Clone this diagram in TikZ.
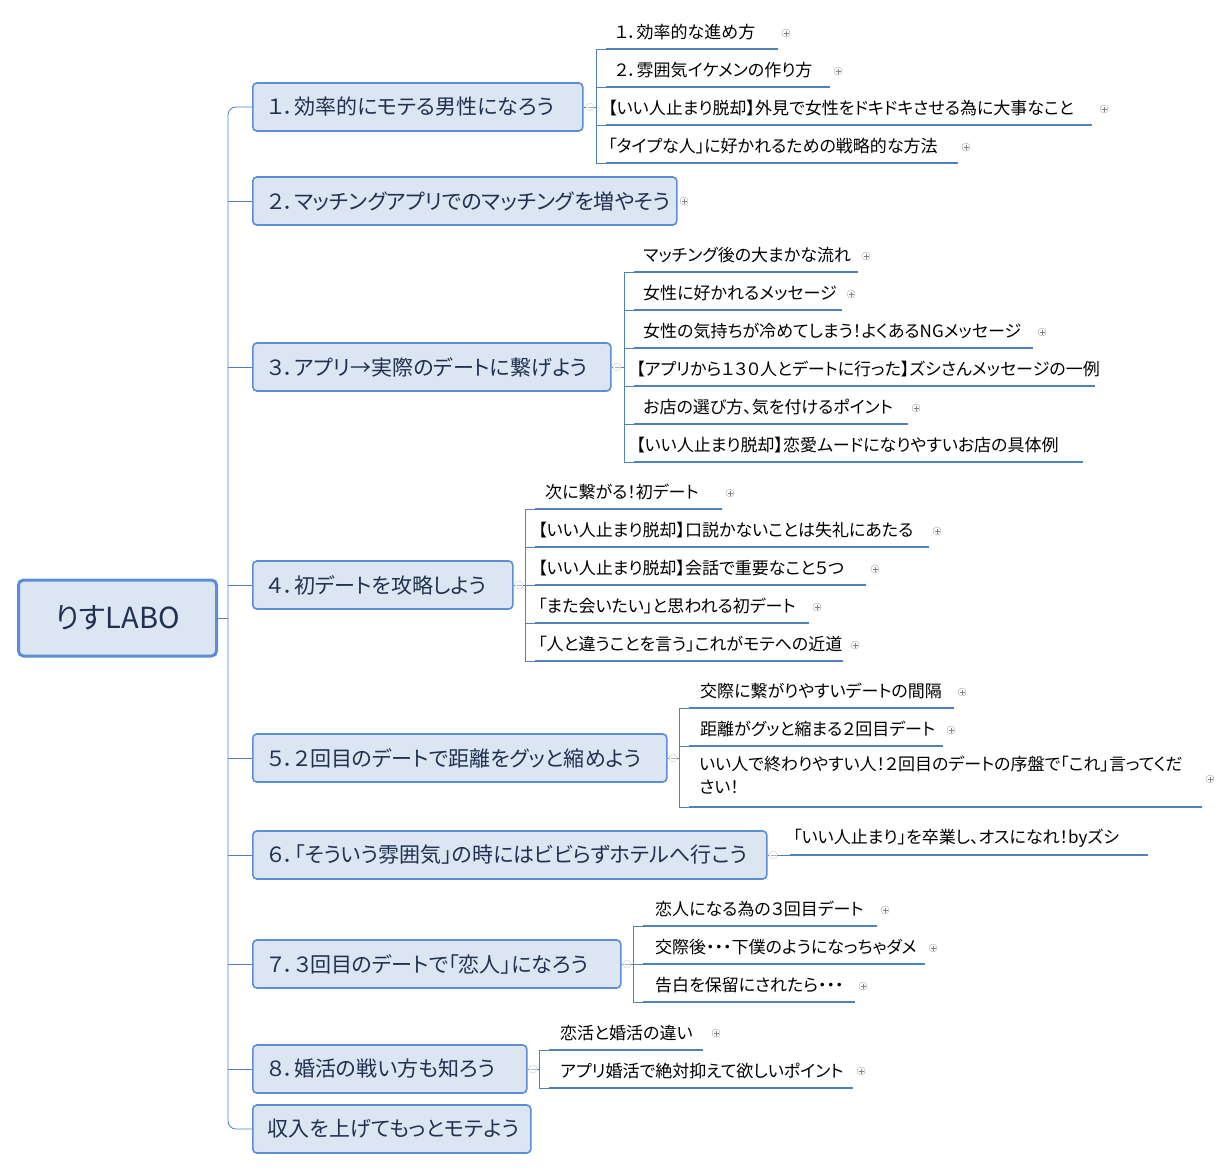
\documentclass[tikz,border=0pt]{standalone}
\usepackage{fontspec}
\setmainfont[RawFeature=+palt]{Noto Sans CJK JP}
\begin{document}
\begin{tikzpicture}[x=1pt,y=-1pt,
  box/.style={draw=boxb,fill=boxf,line width=1.6pt,rounded corners=4pt,anchor=west,inner xsep=15pt,minimum height=48pt,font=\fontsize{21}{24}\selectfont,text=boxt,align=left},
  kid/.style={anchor=west,inner sep=0pt,font=\fontsize{17}{22}\selectfont,text=black},
  uline/.style={draw=ul,line width=2.2pt},
  br/.style={draw=ul,line width=0.8pt},
  plus/.style={circle,draw=gray!70,line width=0.4pt,minimum size=8pt,inner sep=0pt,
    path picture={\draw[gray,line width=0.5pt] ([xshift=-2.5pt]path picture bounding box.center)--([xshift=2.5pt]path picture bounding box.center)
      ([yshift=-2.5pt]path picture bounding box.center)--([yshift=2.5pt]path picture bounding box.center);}},
  minus/.style={circle,draw=gray!45,line width=0.4pt,minimum size=8pt,inner sep=0pt,
    path picture={\draw[gray!60,line width=0.5pt] ([xshift=-2.5pt]path picture bounding box.center)--([xshift=2.5pt]path picture bounding box.center);}}]
\definecolor{boxb}{HTML}{5B8ED6}
\definecolor{boxf}{HTML}{DCE6F2}
\definecolor{boxt}{HTML}{1F3050}
\definecolor{ul}{HTML}{4F81BD}
\useasboundingbox (0,0) rectangle (1231,1170);
\newcommand\kid[6]{%
  \node[kid] (#1) at (#2,#3-17) {#6};
  \draw[uline] (#4,#3) -- (#5,#3);}
\newcommand\pl[3]{\node[plus] (#1) at (#2,#3) {};}
\newcommand\bx[4]{\node[box,text width=#2pt-30pt] (#1) at (252,#3) {#4};}
% root
\node[draw=boxb,fill=boxf,line width=3pt,rounded corners=5pt,minimum width=198pt,minimum height=76pt,font=\fontsize{29}{30}\selectfont,text=boxt] (root) at (117.5,618) {りすLABO};
% level 1
\bx{n1}{330}{107}{１．効率的にモテる男性になろう}
\bx{n2}{424}{201}{２．マッチングアプリでのマッチングを増やそう}
\bx{n3}{358}{367}{３．アプリ→実際のデートに繋げよう}
\bx{n4}{260}{585}{４．初デートを攻略しよう}
\bx{n5}{414}{758}{５．２回目のデートで距離をグッと縮めよう}
\bx{n6}{514}{855}{６．「そういう雰囲気」の時にはビビらずホテルへ行こう}
\bx{n7}{368}{964}{７．３回目のデートで「恋人」になろう}
\bx{n8}{274}{1069}{８．婚活の戦い方も知ろう}
\bx{n9}{278}{1129}{収入を上げてもっとモテよう}
% trunk
\coordinate (t) at (228,618);
\draw[br] (root.east) -- (t);
\draw[br,rounded corners=8pt] (n1.west) -- (228,107) -- (228,1129) -- (n9.west);
\foreach \n in {n2,n3,n4,n5,n6,n7,n8} \draw[br,rounded corners=8pt] (\n.west) -- (228,0 |- \n.west);
% group 1
\node[minus] (m1) at (590,107) {};
\draw[br] (n1.east) -- (m1.west);
\draw[br] (m1.east) -- (596,107);
\draw[br] (596,49) -- (596,163);
\foreach \y in {49,87,125,163} \draw[br] (596,\y) -- (606,\y);
\kid{c11}{615}{49}{606}{778}{１．効率的な進め方}\pl{p11}{786}{33}
\kid{c12}{615}{87}{606}{830}{２．雰囲気イケメンの作り方}\pl{p12}{838}{71}
\kid{c13}{608}{125}{606}{1092}{【いい人止まり脱却】外見で女性をドキドキさせる為に大事なこと}\pl{p13}{1104}{109}
\kid{c14}{608}{163}{606}{958}{「タイプな人」に好かれるための戦略的な方法}\pl{p14}{966}{147}
% group 2
\node[plus] (p2) at (684,201) {};
% group 3
\node[minus] (m3) at (617,367) {};
\draw[br] (n3.east) -- (m3.west);
\draw[br] (m3.east) -- (624,367);
\draw[br] (624,272) -- (624,462);
\foreach \y in {272,310,348,386,424,462} \draw[br] (624,\y) -- (634,\y);
\kid{c31}{643}{272}{634}{858}{マッチング後の大まかな流れ}\pl{p31}{866}{256}
\kid{c32}{643}{310}{634}{842}{女性に好かれるメッセージ}\pl{p32}{851}{294}
\kid{c33}{643}{348}{634}{1033}{女性の気持ちが冷めてしまう！よくあるNGメッセージ}\pl{p33}{1042}{332}
\kid{c34}{636}{386}{634}{1095}{【アプリから１３０人とデートに行った】ズシさんメッセージの一例}
\kid{c35}{643}{424}{634}{908}{お店の選び方、気を付けるポイント}\pl{p35}{916}{408}
\kid{c36}{636}{462}{634}{1083}{【いい人止まり脱却】恋愛ムードになりやすいお店の具体例}
% group 4
\node[minus] (m4) at (519,585) {};
\draw[br] (n4.east) -- (m4.west);
\draw[br] (m4.east) -- (525,585);
\draw[br] (525,509) -- (525,661);
\foreach \y in {509,547,585,623,661} \draw[br] (525,\y) -- (535,\y);
\kid{c41}{545}{509}{535}{722}{次に繋がる！初デート}\pl{p41}{730}{493}
\kid{c42}{538}{547}{535}{929}{【いい人止まり脱却】口説かないことは失礼にあたる}\pl{p42}{937}{531}
\kid{c43}{538}{585}{535}{866}{【いい人止まり脱却】会話で重要なこと５つ}\pl{p43}{875}{569}
\kid{c44}{538}{623}{535}{809}{「また会いたい」と思われる初デート}\pl{p44}{817}{607}
\kid{c45}{538}{661}{535}{843}{「人と違うことを言う」これがモテへの近道}\pl{p45}{855}{645}
% group 5
\node[minus] (m5) at (673,758) {};
\draw[br] (n5.east) -- (m5.west);
\draw[br] (m5.east) -- (679,758);
\draw[br] (679,708) -- (679,807);
\foreach \y in {708,746,807} \draw[br] (679,\y) -- (689,\y);
\kid{c51}{700}{708}{689}{954}{交際に繋がりやすいデートの間隔}\pl{p51}{962}{692}
\kid{c52}{700}{746}{689}{943}{距離がグッと縮まる２回目デート}\pl{p52}{951}{730}
\node[kid,align=left,anchor=north west,font=\fontsize{17}{23}\selectfont] (c53) at (699,756) {いい人で終わりやすい人！２回目のデートの序盤で「これ」言ってくだ\\さい！};
\draw[uline] (689,807) -- (1202,807);
\pl{p53}{1210}{779}
% group 6
\node[minus] (m6) at (773,855) {};
\draw[br] (n6.east) -- (m6.west);
\draw[br] (m6.east) -- (790,855);
\kid{c61}{793}{855}{790}{1148}{「いい人止まり」を卒業し、オスになれ！byズシ}
% group 7
\node[minus] (m7) at (627,964) {};
\draw[br] (n7.east) -- (m7.west);
\draw[br] (m7.east) -- (633,964);
\draw[br] (633,926) -- (633,1002);
\foreach \y in {926,964,1002} \draw[br] (633,\y) -- (643,\y);
\kid{c71}{655}{926}{643}{877}{恋人になる為の３回目デート}\pl{p71}{885}{910}
\kid{c72}{655}{964}{643}{925}{交際後・・・下僕のようになっちゃダメ}\pl{p72}{933}{948}
\kid{c73}{655}{1002}{643}{855}{告白を保留にされたら・・・}\pl{p73}{863}{986}
% group 8
\node[minus] (m8) at (533,1069) {};
\draw[br] (n8.east) -- (m8.west);
\draw[br] (m8.east) -- (539,1069);
\draw[br] (539,1050) -- (539,1088);
\foreach \y in {1050,1088} \draw[br] (539,\y) -- (549,\y);
\kid{c81}{560}{1050}{549}{703}{恋活と婚活の違い}\pl{p81}{716}{1033}
\kid{c82}{560}{1088}{549}{853}{アプリ婚活で絶対抑えて欲しいポイント}\pl{p82}{861}{1071}
\end{tikzpicture}
\end{document}
